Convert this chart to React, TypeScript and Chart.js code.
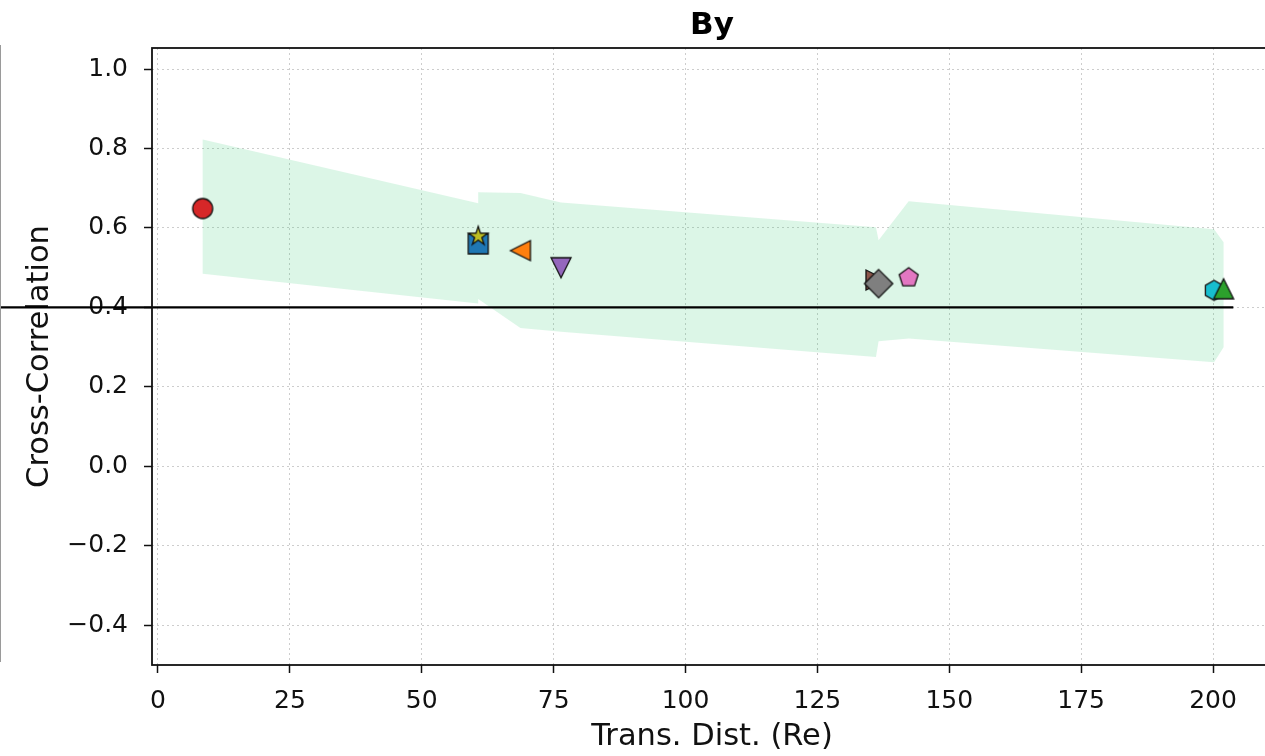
import React, { useEffect, useRef } from 'react';
import { Chart, registerables } from 'chart.js';

Chart.register(...registerables);

const FONT = "'DejaVu Sans', 'Liberation Sans', sans-serif";

// ---- data ----
const chartTitle = 'By';
const xAxisLabel = 'Trans. Dist. (Re)';
const yAxisLabel = 'Cross-Correlation';

const xTicks = [0, 25, 50, 75, 100, 125, 150, 175, 200];
const yTicks = [-0.4, -0.2, 0.0, 0.2, 0.4, 0.6, 0.8, 1.0];
const xMin = -1.137;
const xMax = 211.18;
const yMin = -0.5;
const yMax = 1.053;

// markers (bottom-to-top drawing order)
const pointX = [8.47, 60.7, 60.7, 68.7, 76.4, 136.1, 136.6, 142.3, 200.2, 202.0];
const pointY = [0.649, 0.56, 0.579, 0.543, 0.5, 0.469, 0.46, 0.475, 0.443, 0.447];
const pointShapes = ['o', 's', '*', '<', 'v', '>', 'D', 'p', 'h', '^'];
const pointColors = [
  '#d62728', '#1f77b4', '#bcbd22', '#ff7f0e', '#9467bd',
  '#8c564b', '#7f7f7f', '#e377c2', '#17becf', '#2ca02c',
];

// shaded band
const bandX = [8.47, 60.7, 60.7, 68.7, 76.4, 136.1, 136.6, 142.3, 200.2, 202.0];
const bandUpper = [0.823, 0.662, 0.69, 0.688, 0.664, 0.602, 0.569, 0.667, 0.597, 0.564];
const bandLower = [0.485, 0.41, 0.421, 0.348, 0.339, 0.275, 0.315, 0.322, 0.262, 0.3];

// reference line
const refLineX = [-40, 203.85];
const refLineY = [0.4, 0.4];

function makeMarker(shape: string, color: string): HTMLCanvasElement {
  const size = 40;
  const c = document.createElement('canvas');
  c.width = size;
  c.height = size;
  const ctx = c.getContext('2d')!;
  const cx = size / 2;
  const cy = size / 2;
  const r = 10;
  ctx.beginPath();
  const poly = (pts: number[][]) => {
    pts.forEach(([x, y], i) => (i === 0 ? ctx.moveTo(cx + x, cy + y) : ctx.lineTo(cx + x, cy + y)));
    ctx.closePath();
  };
  const regular = (n: number, rad: number) => {
    const pts: number[][] = [];
    for (let k = 0; k < n; k++) {
      const a = -Math.PI / 2 + (k * 2 * Math.PI) / n;
      pts.push([rad * Math.cos(a), rad * Math.sin(a)]);
    }
    poly(pts);
  };
  switch (shape) {
    case 'o':
      ctx.arc(cx, cy, r, 0, Math.PI * 2);
      break;
    case 's':
      poly([[-r, -r], [r, -r], [r, r], [-r, r]]);
      break;
    case '^':
      poly([[0, -r], [r, r], [-r, r]]);
      break;
    case 'v':
      poly([[0, r], [r, -r], [-r, -r]]);
      break;
    case '<':
      poly([[-r, 0], [r, -r], [r, r]]);
      break;
    case '>':
      poly([[r, 0], [-r, -r], [-r, r]]);
      break;
    case 'D': {
      const d = r * Math.SQRT2;
      poly([[0, -d], [d, 0], [0, d], [-d, 0]]);
      break;
    }
    case 'p':
      regular(5, r);
      break;
    case 'h':
      regular(6, r);
      break;
    case '*': {
      const pts: number[][] = [];
      const inner = r * 0.381966;
      for (let k = 0; k < 10; k++) {
        const a = -Math.PI / 2 + (k * Math.PI) / 5;
        const rad = k % 2 === 0 ? r : inner;
        pts.push([rad * Math.cos(a), rad * Math.sin(a)]);
      }
      poly(pts);
      break;
    }
  }
  ctx.fillStyle = color;
  ctx.fill();
  ctx.lineWidth = 1.3;
  ctx.strokeStyle = '#111';
  ctx.lineJoin = 'miter';
  ctx.stroke();
  return c;
}

const spinePlugin = {
  id: 'spines',
  afterDatasetsDraw(chart: any) {
    const { ctx, chartArea } = chart;
    const { left, top, right, bottom } = chartArea;
    ctx.save();
    ctx.strokeStyle = '#111';
    ctx.lineWidth = 1.8;
    ctx.strokeRect(left, top, right - left, bottom - top);
    ctx.restore();
  },
};

function fmtY(v: number) {
  const n = Math.abs(v) < 1e-9 ? 0 : v;
  return n.toFixed(1).replace('-', '\u2212');
}

export default function App() {
  const ref = useRef<HTMLCanvasElement | null>(null);

  useEffect(() => {
    if (!ref.current) return;
    Chart.defaults.font.family = FONT;

    const bandPolygon = [
      ...bandX.map((x, i) => ({ x, y: bandUpper[i] })),
      ...bandX.map((x, i) => ({ x, y: bandLower[i] })).reverse(),
    ];

    const total = pointX.length + 2;
    const datasets: any[] = [];
    datasets.push({
      label: 'band',
      data: bandPolygon,
      showLine: true,
      fill: 'shape',
      backgroundColor: 'rgba(46,204,113,0.17)',
      borderColor: 'rgba(0,0,0,0)',
      borderWidth: 0,
      pointRadius: 0,
      pointHoverRadius: 0,
      tension: 0,
      order: total,
    });
    datasets.push({
      label: 'ref',
      data: refLineX.map((x, i) => ({ x, y: refLineY[i] })),
      showLine: true,
      fill: false,
      borderColor: '#000',
      borderWidth: 2.3,
      pointRadius: 0,
      pointHoverRadius: 0,
      clip: false,
      order: total - 1,
    });
    pointX.forEach((x, i) => {
      datasets.push({
        label: 'p' + i,
        data: [{ x, y: pointY[i] }],
        pointStyle: makeMarker(pointShapes[i], pointColors[i]),
        pointRadius: 10,
        backgroundColor: pointColors[i],
        borderColor: '#111',
        order: total - 2 - i,
      });
    });

    const tickFont = { family: FONT, size: 25 };
    const labelFont = { family: FONT, size: 30.5 };
    const gridCommon = {
      color: '#cdcdcd',
      lineWidth: 1,
      drawTicks: true,
      tickLength: 8,
      tickColor: '#111',
      tickWidth: 1.5,
      tickBorderDash: [],
    };

    const chart = new Chart(ref.current, {
      type: 'scatter',
      data: { datasets },
      plugins: [spinePlugin],
      options: {
        responsive: false,
        animation: false,
        events: [],
        layout: { padding: { left: 0, right: 18, top: 0, bottom: 0 } },
        plugins: {
          legend: { display: false },
          tooltip: { enabled: false },
          title: {
            display: true,
            fullSize: false,
            text: chartTitle,
            color: '#000',
            font: { family: FONT, size: 31, weight: 'bold' },
            padding: { top: 7.5, bottom: 3.3 },
          },
        },
        scales: {
          x: {
            type: 'linear',
            min: xMin,
            max: xMax,
            afterBuildTicks: (s: any) => {
              s.ticks = xTicks.map((v) => ({ value: v }));
            },
            afterFit: (s: any) => {
              s.height = 91;
            },
            grid: gridCommon,
            border: { display: false, dash: [2, 3] },
            ticks: {
              padding: 13.5,
              color: '#111',
              font: tickFont,
              maxRotation: 0,
              autoSkip: false,
              callback: (v: any) => String(v),
            },
            title: {
              display: true,
              text: xAxisLabel,
              color: '#111',
              font: labelFont,
              padding: { top: 0, bottom: 0.5 },
            },
          },
          y: {
            type: 'linear',
            min: yMin,
            max: yMax,
            afterBuildTicks: (s: any) => {
              s.ticks = yTicks.map((v) => ({ value: v }));
            },
            afterFit: (s: any) => {
              s.width = 152;
            },
            grid: gridCommon,
            border: { display: false, dash: [2, 3] },
            ticks: {
              padding: 16,
              color: '#111',
              font: tickFont,
              autoSkip: false,
              callback: (v: any) => fmtY(Number(v)),
            },
            title: {
              display: true,
              text: yAxisLabel,
              color: '#111',
              font: labelFont,
              padding: { top: 21.5, bottom: 0 },
            },
          },
        },
      } as any,
    });
    return () => chart.destroy();
  }, []);

  return (
    <div
      style={{
        position: 'fixed',
        left: 0,
        top: 0,
        width: 1265,
        height: 756,
        overflow: 'hidden',
        background: '#fff',
      }}
    >
      <canvas
        ref={ref}
        width={1290}
        height={756}
        style={{ position: 'absolute', left: 0, top: 0, width: 1290, height: 756 }}
      />
      <div
        style={{
          position: 'absolute',
          left: 0,
          top: 45,
          width: 1,
          height: 617,
          background: '#9a9a9a',
        }}
      />
    </div>
  );
}
